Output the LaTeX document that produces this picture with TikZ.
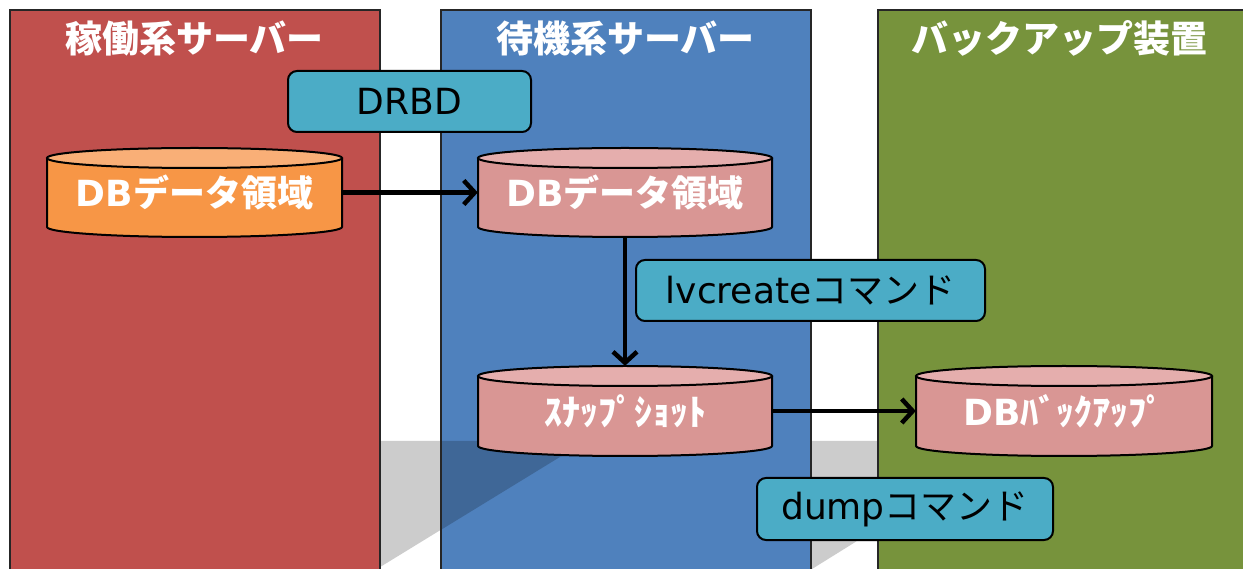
\documentclass[tikz,border=0pt]{standalone}
\usepackage{fontspec}
\setmainfont{DejaVu Sans}
\newfontfamily\jp{Noto Sans CJK JP}
\newfontfamily\lat{DejaVu Sans}
\usetikzlibrary{arrows.meta}

\definecolor{srvred}{HTML}{C0504D}
\definecolor{srvblue}{HTML}{4F81BD}
\definecolor{srvgreen}{HTML}{77933C}
\definecolor{cmdfill}{HTML}{4BACC6}
\definecolor{orgbody}{HTML}{F79646}
\definecolor{orgtop}{HTML}{F9AF77}
\definecolor{pinkbody}{HTML}{D99694}
\definecolor{pinktop}{HTML}{E5AEAD}
\definecolor{bandgray}{HTML}{CCCCCC}

\tikzset{
  column/.style={draw=black!85, line width=2pt},
  title/.style={text=white, font=\jp\bfseries\fontsize{37}{40}\selectfont, inner sep=0pt},
  drumline/.style={draw=black, line width=2pt},
  drumtext/.style={text=white, font=\jp\bfseries\fontsize{36}{40}\selectfont, inner sep=0pt},
  cmdbox/.style={draw=black, line width=2pt, fill=cmdfill, rounded corners=9pt,
    text=black, font=\lat\fontsize{36}{40}\selectfont, inner sep=0pt},
  conn/.style={line width=4.5pt, -{Straight Barb[length=11pt,width=24pt]}},
}

% database drum: name, centre x, centre y, half width, half height of body,
% body colour, lid colour, label
\newcommand\drum[8]{%
  \fill[#6] (#2-#4,#3+#5) -- (#2-#4,#3-#5)
    arc[start angle=180,end angle=360,x radius=#4,y radius=10] -- (#2+#4,#3+#5) -- cycle;
  \fill[#7] (#2,#3+#5) ellipse[x radius=#4,y radius=10];
  \draw[drumline] (#2-#4,#3+#5) -- (#2-#4,#3-#5)
    arc[start angle=180,end angle=360,x radius=#4,y radius=10] -- (#2+#4,#3+#5);
  \draw[drumline] (#2,#3+#5) ellipse[x radius=#4,y radius=10];
  \node[drumtext, minimum width=2*#4, minimum height=2*#5+20] (#1) at (#2,#3) {#8};
}

\begin{document}
\begin{tikzpicture}[x=1pt,y=1pt]
\clip (0,0) rectangle (1243,568);
\fill[white] (0,0) rectangle (1243,568);

% grey band behind the servers
\fill[bandgray] (380,127) -- (890,127) -- (890,27) -- (857,27) -- (812,-1)
  -- (600,-1) -- (440,37.7) -- (380,0.9) -- cycle;

% server columns
\filldraw[column, fill=srvred] (9.5,-10) rectangle (379.5,558);
\filldraw[column, fill=srvblue] (441,-10) rectangle (810.5,558);
\filldraw[column, fill=srvgreen] (878,-10) rectangle (1260,558);

% shadow falling across the standby server
\fill[black, opacity=0.2] (442,127) -- (586,127) -- (442,38.8) -- cycle;

\node[title] (tprim) at (194.5,530) {稼働系サーバー};
\node[title] (tstby) at (625.5,530) {待機系サーバー};
\node[title] (tback) at (1059,530) {バックアップ装置};

% databases
\drum{primdb}{194.5}{375.5}{147.5}{34.5}{orgbody}{orgtop}{{\lat DB}データ領域}
\drum{stbydb}{625}{375.5}{147}{34.5}{pinkbody}{pinktop}{{\lat DB}データ領域}
\drum{snap}{625}{157}{147}{35}{pinkbody}{pinktop}{ｽﾅｯﾌﾟｼｮｯﾄ}
\drum{backup}{1064}{157}{148}{35}{pinkbody}{pinktop}{{\lat DB}ﾊﾞｯｸｱｯﾌﾟ}

% commands
\node[cmdbox, minimum width=243, minimum height=61] (drbd) at (409.5,466.5) {DRBD};
\node[cmdbox, minimum width=349, minimum height=61] (lvc) at (810.5,277.5) {lvcreate{\jp コマンド}};
\node[cmdbox, minimum width=296, minimum height=62] (dump) at (905,59) {dump{\jp コマンド}};

% data flow
\draw[conn] (primdb.east) -- (stbydb.west);
\draw[conn] (stbydb.south) -- (snap.north);
\draw[conn] (snap.east) -- (backup.west);
\end{tikzpicture}
\end{document}
